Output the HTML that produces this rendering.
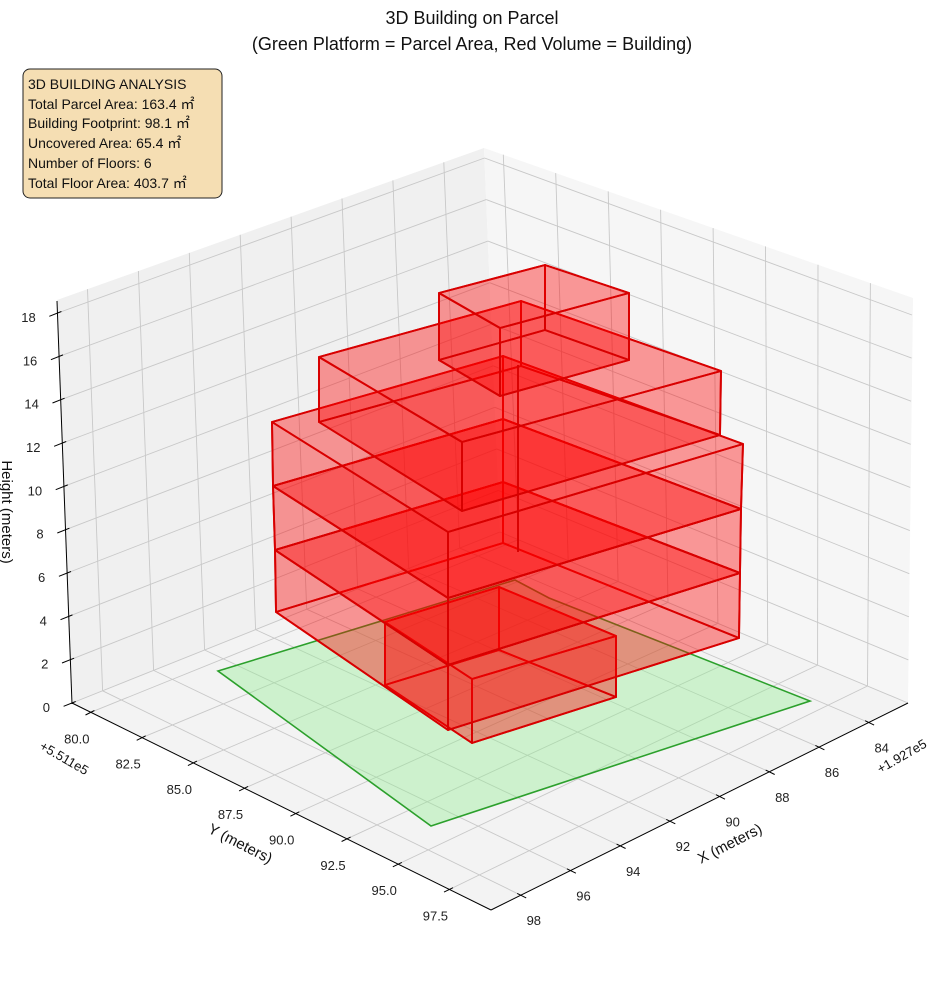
<!DOCTYPE html>
<html><head><meta charset="utf-8"><style>
html,body{margin:0;padding:0;background:#fff;}
svg{display:block;font-family:"Liberation Sans",sans-serif;}
</style></head><body>
<svg id="s" width="944" height="992" viewBox="0 0 944 992" xmlns="http://www.w3.org/2000/svg">
<g id="panes"></g>
<g id="grid" stroke="#c8c8c8" stroke-width="0.9" fill="none"></g>
<g id="axes" stroke="#000" stroke-width="1" fill="none"></g>
<g id="green"><polygon points="218,671 515,580 549,598 810,701 431,826" fill="rgba(144,238,144,0.38)" stroke="#2ca02c" stroke-width="1.6"/></g>
<g id="bld" fill="rgba(255,0,0,0.22)" stroke="#d80000" stroke-width="1.9" stroke-linejoin="round"></g>
<g id="labels" font-size="13" fill="#222"></g>
<text x="472" y="24" font-size="18" text-anchor="middle" fill="#111">3D Building on Parcel</text>
<text x="472" y="50" font-size="18" text-anchor="middle" fill="#111">(Green Platform = Parcel Area, Red Volume = Building)</text>
<rect x="23" y="69" width="199" height="129" rx="7" fill="#f5deb3" stroke="#222" stroke-width="1"/>
<g font-size="14" fill="#111">
<text x="28" y="89">3D BUILDING ANALYSIS</text>
<text x="28" y="109">Total Parcel Area: 163.4 ㎡</text>
<text x="28" y="128">Building Footprint: 98.1 ㎡</text>
<text x="28" y="148">Uncovered Area: 65.4 ㎡</text>
<text x="28" y="168">Number of Floors: 6</text>
<text x="28" y="188">Total Floor Area: 403.7 ㎡</text>
</g>
<text x="0" y="0" font-size="15" fill="#111" text-anchor="middle" transform="translate(2,512) rotate(90)">Height (meters)</text>
<text x="0" y="0" font-size="15" fill="#111" text-anchor="middle" transform="translate(238,848) rotate(27)">Y (meters)</text>
<text x="0" y="0" font-size="15" fill="#111" text-anchor="middle" transform="translate(732,848) rotate(-27)">X (meters)</text>
<text x="0" y="0" font-size="13" fill="#111" text-anchor="middle" transform="translate(62,762) rotate(30)">+5.511e5</text>
<text x="0" y="0" font-size="13" fill="#111" text-anchor="middle" transform="translate(904,760) rotate(-30)">+1.927e5</text>
</svg>
<script>
(function(){
var NS="http://www.w3.org/2000/svg";
function el(parent,tag,attrs,txt){var e=document.createElementNS(NS,tag);for(var k in attrs)e.setAttribute(k,attrs[k]);if(txt!==undefined)e.textContent=txt;document.getElementById(parent).appendChild(e);return e;}
var L=[72,703],F=[491,910],R=[908,703],B=[500,532];
var TL=[57,300],BT=[484,148],TR=[913,298];
function pts(a){return a.map(function(p){return p[0].toFixed(1)+","+p[1].toFixed(1)}).join(" ");}
el("panes","polygon",{points:pts([TL,BT,B,L]),fill:"#f0f0f0"});
el("panes","polygon",{points:pts([BT,TR,R,B]),fill:"#f6f6f6"});
el("panes","polygon",{points:pts([L,B,R,F]),fill:"#f3f3f3"});
var ymin=79.08,ymax=99.53,xmin=82.42,xmax=99.2;
function P(x,y){var u=(y-ymin)/(ymax-ymin),w=(x-xmin)/(xmax-xmin);
 return [B[0]*(1-u)*(1-w)+L[0]*(1-u)*w+R[0]*u*(1-w)+F[0]*u*w, B[1]*(1-u)*(1-w)+L[1]*(1-u)*w+R[1]*u*(1-w)+F[1]*u*w];}
function line(g,a,b){el(g,"line",{x1:a[0].toFixed(1),y1:a[1].toFixed(1),x2:b[0].toFixed(1),y2:b[1].toFixed(1)});}
function lerp(a,b,t){return [a[0]+(b[0]-a[0])*t,a[1]+(b[1]-a[1])*t];}
var zL0=[72,703],zL18=[57.7,313],zB0=[500,532],zB18=[484.5,158],zR0=[908,703],zR18=[912,315];
for(var z=0;z<=18;z+=2){var t=z/18;
 var a=lerp(zL0,zL18,t),b=lerp(zB0,zB18,t),c=lerp(zR0,zR18,t);
 line("grid",a,b);line("grid",b,c);}
var dL=[-15,-403],dB=[-16,-384],dR=[5,-405];
for(var x=84;x<=98;x+=2){var p=P(x,ymin);var w=(x-xmin)/(xmax-xmin);
 var d=[dB[0]*(1-w)+dL[0]*w,dB[1]*(1-w)+dL[1]*w];line("grid",p,[p[0]+d[0],p[1]+d[1]]);
 line("grid",P(x,ymin),P(x,ymax));}
for(var y=80;y<=97.6;y+=2.5){var p=P(xmin,y);var u=(y-ymin)/(ymax-ymin);
 var d=[dB[0]*(1-u)+dR[0]*u,dB[1]*(1-u)+dR[1]*u];line("grid",p,[p[0]+d[0],p[1]+d[1]]);
 line("grid",P(xmin,y),P(xmax,y));}
line("axes",[57,301],[72,704]);line("axes",L,F);line("axes",F,R);
var dy=[-0.897,0.445],dx=[0.897,0.443],dz=[-0.93,0.37];
for(var y=80;y<=97.6;y+=2.5){var p=P(xmax,y);
 line("axes",[p[0]-4*dy[0],p[1]-4*dy[1]],[p[0]+6*dy[0],p[1]+6*dy[1]]);
 el("labels","text",{x:(p[0]-14).toFixed(1),y:(p[1]+31).toFixed(1),"text-anchor":"middle"},y.toFixed(1));}
for(var x=84;x<=98;x+=2){var p=P(x,ymax);
 line("axes",[p[0]-4*dx[0],p[1]-4*dx[1]],[p[0]+6*dx[0],p[1]+6*dx[1]]);
 el("labels","text",{x:(p[0]+13).toFixed(1),y:(p[1]+30).toFixed(1),"text-anchor":"middle"},String(x));}
for(var z=0;z<=18;z+=2){var p=lerp(zL0,zL18,z/18);
 line("axes",[p[0]-4*dz[0],p[1]-4*dz[1]],[p[0]+9*dz[0],p[1]+9*dz[1]]);
 el("labels","text",{x:(p[0]-22).toFixed(1),y:(p[1]+9).toFixed(1),"text-anchor":"end"},String(z));}
function box(bot,top){
 el("bld","polygon",{points:pts(bot)});
 for(var i=0;i<4;i++){var j=(i+1)%4;el("bld","polygon",{points:pts([bot[i],bot[j],top[j],top[i]])});}
 el("bld","polygon",{points:pts(top)});}
box([[385,685],[472,743],[616,697],[499,650]],[[385,622],[472,679],[616,636],[499,587]]);
var Lk=[[276,612],[275,550],[273,486],[272,422]],Fk=[[448,730],[448,665],[448,598],[448,532]],
    Rk=[[739,638],[740,573],[741,509],[743,444]],Bk=[[503,543],[503,482],[503,419],[503,356]];
for(var k=0;k<3;k++){box([Lk[k],Fk[k],Rk[k],Bk[k]],[Lk[k+1],Fk[k+1],Rk[k+1],Bk[k+1]]);}
box([[319,422],[462,511],[720,435],[521,366]],[[319,357],[462,442],[721,371],[521,301]]);
box([[439,360],[500,396],[629,360],[545,330]],[[439,293],[500,328],[629,293],[545,265]]);
line("bld",[518,365],[518,552]);
})();
</script>
</body></html>
